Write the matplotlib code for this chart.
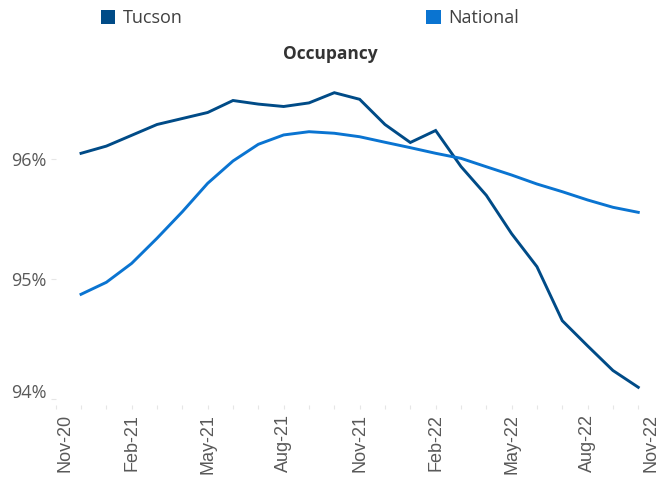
import matplotlib
matplotlib.use("Agg")
import matplotlib.pyplot as plt
import matplotlib.transforms as mtransforms
from matplotlib.patches import Patch
from matplotlib.ticker import FixedLocator, MultipleLocator, FuncFormatter

plt.rcParams['font.family'] = ['Open Sans', 'DejaVu Sans']

# Month axis: index 0 = Nov-20 ... 24 = Nov-22
tick_labels = ["Nov-20", "Feb-21", "May-21", "Aug-21", "Nov-21",
               "Feb-22", "May-22", "Aug-22", "Nov-22"]
tick_months = [0, 3, 6, 9, 12, 15, 18, 21, 24]

# Data months: Dec-20 (1) .. Oct-22 (23)
months = list(range(1, 24))
tucson = [96.05, 96.11, 96.20, 96.29, 96.34, 96.39, 96.49, 96.46, 96.44,
          96.47, 96.555, 96.50, 96.29, 96.14, 96.24, 95.94, 95.70, 95.38,
          95.105, 94.655, 94.445, 94.24, 94.10]
national = [94.875, 94.975, 95.133, 95.342, 95.563, 95.80, 95.986, 96.125,
            96.203, 96.23, 96.217, 96.188, 96.142, 96.097, 96.05, 96.008,
            95.938, 95.869, 95.794, 95.73, 95.661, 95.60, 95.558]
y_ticks = [94, 95, 96]

c_tucson = "#004B87"
c_national = "#0A74D1"

fig = plt.figure(figsize=(6.6, 4.78), dpi=100)
ax = fig.add_axes([55.7/660, 1-405.3/478, 607.9/660, (405.3-75.3)/478])

ax.plot(months, tucson, color=c_tucson, lw=2.1, solid_joinstyle='miter')
ax.plot(months, national, color=c_national, lw=2.1, solid_joinstyle='miter')

ax.set_xlim(0, 24)
ax.set_ylim(93.95, 96.7)

ax.xaxis.set_major_locator(FixedLocator(tick_months))
ax.set_xticklabels(tick_labels, rotation=90, fontsize=13, color="#595959",
                   family=['Liberation Sans', 'DejaVu Sans'])
ax.xaxis.set_minor_locator(MultipleLocator(1))
ax.set_yticks(y_ticks)
ax.yaxis.set_major_formatter(FuncFormatter(lambda v, p: f"{v:.0f}%"))
ax.tick_params(axis='y', labelsize=13, labelcolor="#595959", color="#e6e6e6",
               length=3.6, width=0.8, pad=3)
ax.tick_params(axis='x', which='both', color="#e6e6e6", length=3, width=0.8, pad=3.5)
for s in ax.spines.values():
    s.set_visible(False)

# Edge label placement like the original (first/last pulled inward, bottom y label lifted)
xl = ax.get_xticklabels()
xl[0].set_transform(xl[0].get_transform() +
                    mtransforms.ScaledTranslation(9/100, 0, fig.dpi_scale_trans))
xl[-1].set_transform(xl[-1].get_transform() +
                     mtransforms.ScaledTranslation(-13/100, 0, fig.dpi_scale_trans))
fig.canvas.draw()
yl = ax.get_yticklabels()
yl[0].set_transform(yl[0].get_transform() +
                    mtransforms.ScaledTranslation(0, 8/100, fig.dpi_scale_trans))

fig.text(330/660, 1-54/478, "Occupancy", ha='center', va='center',
         fontsize=12.5, fontweight='bold', color="#333333")

handles = [Patch(facecolor=c_tucson, edgecolor='none', label='Tucson'),
           Patch(facecolor=c_national, edgecolor='none', label='National')]
fig.legend(handles=handles, loc='upper left', bbox_to_anchor=(92/660, 1.0),
           ncol=2, frameon=False, fontsize=13, handlelength=0.8,
           handleheight=0.8, handletextpad=0.4, columnspacing=13.5,
           labelcolor="#404040", borderaxespad=0.1)

fig.savefig("out.png", dpi=100)
